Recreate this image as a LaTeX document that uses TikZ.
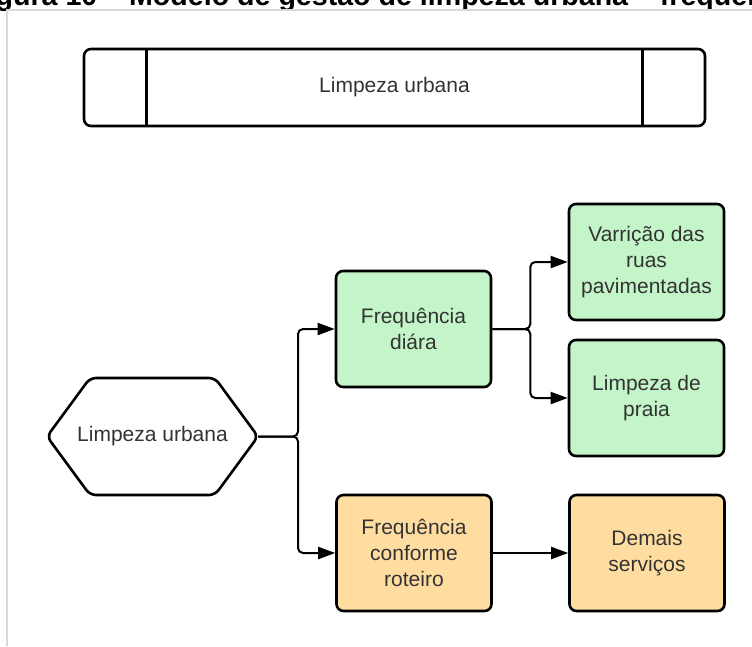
\documentclass[tikz,border=0pt]{standalone}
\usepackage{fontspec}
\setmainfont{Liberation Sans}
\usetikzlibrary{arrows.meta}

\definecolor{boxgreen}{HTML}{C3F5C8}
\definecolor{boxorange}{HTML}{FFDDA1}
\definecolor{textgray}{HTML}{333333}

\tikzset{
	txt/.style={font=\fontsize{21}{26}\selectfont, text=textgray, align=center},
	block/.style={txt, draw=black, line width=2.6pt, rounded corners=7pt, minimum width=155pt, minimum height=116pt, inner sep=0pt},
	link/.style={line width=2pt, rounded corners=5pt, -{Triangle[length=17pt,width=12pt]}},
}

\begin{document}
\begin{tikzpicture}[x=1pt, y=-1pt]
			%%%%% START %%%%%
			
			\useasboundingbox (0, 0) rectangle (752, 646);
			\clip (0, 0) rectangle (752, 646);
			
			\node[font=\bfseries\fontsize{28.6}{30}\selectfont, anchor=base west, inner sep=0pt] (titulo) at (-30, 5) {Figura 10 – Modelo de gestão de limpeza urbana – frequência};
			\draw[line width=2pt, color=black!15] (7, 646) -- (7, 10) -- (752, 10);
			
			\node[txt, draw=black, line width=2.6pt, rounded corners=7pt, minimum width=621pt, minimum height=77pt, inner sep=0pt] (banner) at (394.5, 87.5) {Limpeza urbana};
			\draw[line width=2.6pt] ([xshift=64pt]banner.north west) -- ([xshift=64pt]banner.south west);
			\draw[line width=2.6pt] ([xshift=-64pt]banner.north east) -- ([xshift=-64pt]banner.south east);
			
			\node[txt, minimum width=211pt, minimum height=117pt, inner sep=0pt, outer sep=0pt] (hexa) at (152.5, 436.5) {Limpeza urbana};
			\draw[line width=2.6pt, rounded corners=6pt] (hexa.west) -- ([xshift=43pt]hexa.north west) -- ([xshift=-43pt]hexa.north east) -- (hexa.east) -- ([xshift=-43pt]hexa.south east) -- ([xshift=43pt]hexa.south west) -- cycle;
			
			\node[block, fill=boxgreen] (diaria) at (413.5, 329) {Frequência\\diára};
			\node[block, fill=boxgreen] (varricao) at (646.5, 262) {Varrição das\\ruas\\pavimentadas};
			\node[block, fill=boxgreen] (praia) at (646.5, 398) {Limpeza de\\praia};
			\node[block, fill=boxorange] (roteiro) at (414, 553) {Frequência\\conforme\\roteiro};
			\node[block, fill=boxorange] (demais) at (647, 553) {Demais\\serviços};
			
			\draw[link] (hexa.east) -- ++(40, 0) |- (diaria.west);
			\draw[link] (hexa.east) -- ++(40, 0) |- (roteiro.west);
			\draw[link] (diaria.east) -- ++(38, 0) |- (varricao.west);
			\draw[link] (diaria.east) -- ++(38, 0) |- (praia.west);
			\draw[link] (roteiro.east) -- (demais.west);
			
			%%%%% END %%%%%
\end{tikzpicture}
\end{document}
